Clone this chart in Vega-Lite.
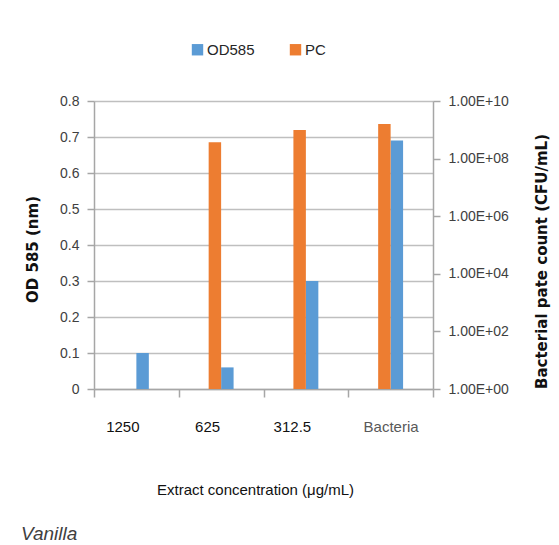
{
  "$schema": "https://vega.github.io/schema/vega-lite/v6.json",
  "autosize": {"type": "none"},
  "padding": {"left": 94, "top": 101, "right": 126, "bottom": 156},
  "width": 339,
  "height": 288,
  "background": "white",
  "config": {
    "view": {"stroke": null},
    "font": "Liberation Sans",
    "axis": {"labelFont": "Liberation Sans", "labelFontSize": 14, "labelColor": "#404040", "domainColor": "#A6A6A6", "tickColor": "#A6A6A6", "gridColor": "#BFBFBF", "domainWidth": 1.5, "tickWidth": 1.5, "gridWidth": 1.5}
  },
  "title": {"text": "Vanilla", "orient": "bottom", "anchor": "start", "frame": "bounds", "font": "Liberation Sans", "fontStyle": "italic", "fontWeight": "normal", "fontSize": 19, "color": "#404040", "offset": 28, "dx": -4},
  "data": {"values": [
    {"conc": "1250", "series": "OD585", "value": 0.1},
    {"conc": "625", "series": "OD585", "value": 0.06},
    {"conc": "312.5", "series": "OD585", "value": 0.3},
    {"conc": "Bacteria", "series": "OD585", "value": 0.69},
    {"conc": "1250", "series": "PC", "value": 1},
    {"conc": "625", "series": "PC", "value": 370000000},
    {"conc": "312.5", "series": "PC", "value": 980000000},
    {"conc": "Bacteria", "series": "PC", "value": 1600000000}
  ]},
  "encoding": {
    "x": {"field": "conc", "type": "nominal", "sort": ["1250", "625", "312.5", "Bacteria"],
      "scale": {"paddingInner": 0, "paddingOuter": 0},
      "axis": {"title": "Extract concentration (μg/mL)", "labelAngle": 0, "tickBand": "extent", "tickSize": 8, "labelPadding": 22, "labelFontSize": 15, "labelOffset": {"condition": {"test": "datum.value === 'Bacteria'", "value": 0}, "value": -14}, "labelColor": {"condition": {"test": "datum.value === 'Bacteria'", "value": "#595959"}, "value": "#111111"}, "titleFont": "Liberation Sans", "titleFontSize": 15, "titleFontWeight": "normal", "titleColor": "#111111", "titleX": 161, "titleY": 100, "titleAlign": "center", "titleBaseline": "middle"}},
    "xOffset": {"field": "series", "type": "nominal", "scale": {"domain": ["a", "b", "PC", "OD585", "c", "d"], "paddingInner": 0, "paddingOuter": 0.4}},
    "color": {"field": "series", "type": "nominal", "scale": {"domain": ["OD585", "PC"], "range": ["#5B9BD5", "#ED7D31"]},
      "legend": {"title": null, "orient": "none", "direction": "horizontal", "legendX": 96, "legendY": -59, "symbolType": "square", "symbolSize": 130, "symbolStrokeWidth": 0, "labelFontSize": 15, "labelColor": "#262626", "columnPadding": 33, "labelOffset": 2}}
  },
  "layer": [
    {
      "transform": [{"filter": "datum.series === 'OD585'"}],
      "mark": {"type": "bar"},
      "encoding": {
        "y": {"field": "value", "type": "quantitative", "stack": null, "scale": {"domain": [0, 0.8], "nice": false},
          "axis": {"title": "OD 585 (nm)", "values": [0, 0.1, 0.2, 0.3, 0.4, 0.5, 0.6, 0.7, 0.8], "format": ".1~f", "tickSize": 7, "labelPadding": 8, "titleFont": "DejaVu Sans", "titleFontSize": 15, "titleFontWeight": "bold", "titleColor": "#111111", "titleAngle": -90, "titleX": -62, "titleY": 148, "titleAlign": "center", "titleBaseline": "middle", "grid": true}}
      }
    },
    {
      "transform": [{"filter": "datum.series === 'PC'"}],
      "mark": {"type": "bar"},
      "encoding": {
        "y": {"field": "value", "type": "quantitative", "stack": null, "scale": {"type": "log", "domain": [1, 10000000000], "nice": false},
          "axis": {"orient": "right", "title": "Bacterial pate count (CFU/mL)", "values": [1, 100, 10000, 1000000, 100000000, 10000000000], "labelExpr": "'1.00E+' + pad(toString(round(log(datum.value)/LN10)), 2, '0', 'left')", "tickSize": 7, "labelPadding": 8, "grid": false, "titleAngle": -90, "titleFont": "DejaVu Sans", "titleFontSize": 15, "titleFontWeight": "bold", "titleColor": "#111111", "titleX": 108, "titleY": 160, "titleAlign": "center", "titleBaseline": "middle"}},
        "y2": {"datum": 1}
      }
    }
  ],
  "resolve": {"scale": {"y": "independent"}}
}
